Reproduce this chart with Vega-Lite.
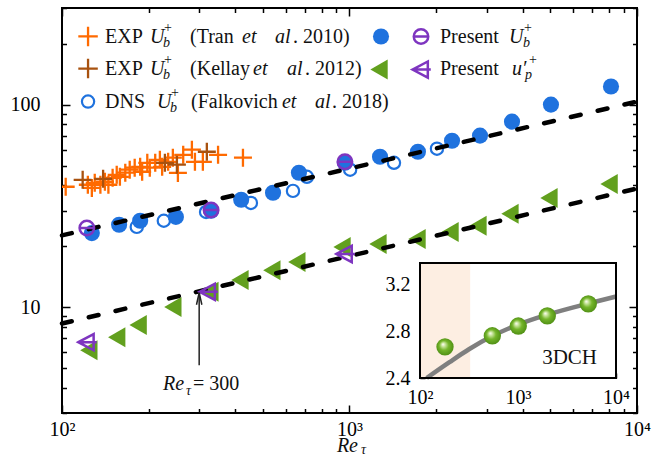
{
"$schema":"https://vega.github.io/schema/vega-lite/v6.json",
"width":575,"height":405,
"autosize":{"type":"none"},
"padding":{"left":62,"top":8,"right":15,"bottom":45},
"background":"white",
"config":{"view":{"stroke":"black","strokeWidth":2},
 "axis":{"domain":false,"grid":false,"tickColor":"black","tickWidth":1.5,"labelColor":"black","labelFont":"Liberation Serif, Times New Roman, DejaVu Serif, serif","labelFontSize":20,"labelFlush":false,"labelOverlap":false},
 "text":{"font":"Liberation Serif, Times New Roman, DejaVu Serif, serif","color":"black"}},
"datasets":{
 "tran":[{"re":103,"u":39.3},{"re":123,"u":40.2},{"re":127,"u":38.8},{"re":130,"u":41.1},{"re":136,"u":40.2},{"re":141,"u":41.6},{"re":145,"u":40.2},{"re":150,"u":43.5},{"re":155,"u":45.0},{"re":159,"u":44.0},{"re":166,"u":46.1},{"re":172,"u":47.7},{"re":179,"u":48.8},{"re":187,"u":49.3},{"re":190,"u":46.6},{"re":198,"u":51.6},{"re":202,"u":48.8},{"re":211,"u":51.6},{"re":219,"u":53.4},{"re":223,"u":49.3},{"re":234,"u":52.2},{"re":243,"u":54.7},{"re":253,"u":46.0},{"re":264,"u":56.5},{"re":283,"u":59.9},{"re":290,"u":52.2},{"re":309,"u":52.2},{"re":349,"u":56.5},{"re":426,"u":54.7}],
 "kellay":[{"re":118,"u":42.5},{"re":139,"u":43.0},{"re":228,"u":51.6},{"re":251,"u":50.5},{"re":319,"u":58.5}],
 "dns":[{"re":182,"u":24.9},{"re":226,"u":26.7},{"re":317,"u":29.5},{"re":454,"u":32.7},{"re":636,"u":37.5},{"re":711,"u":44.0},{"re":1005,"u":47.7},{"re":1428,"u":51.6},{"re":2015,"u":60.6}],
 "presentU":[{"re":127,"u":23.2},{"re":158,"u":25.5},{"re":187,"u":26.7},{"re":249,"u":27.9},{"re":330,"u":29.9},{"re":420,"u":33.9},{"re":542,"u":36.7},{"re":667,"u":46.1},{"re":964,"u":51.6},{"re":1277,"u":55.3},{"re":1730,"u":58.5},{"re":2273,"u":66.3},{"re":2844,"u":70.3},{"re":3675,"u":82.4},{"re":5020,"u":100},{"re":8120,"u":122.8}],
 "presentUsel":[{"re":122,"u":24.6},{"re":330,"u":30.2},{"re":964,"u":52.2}],
 "presentUp":[{"re":124,"u":6.12},{"re":155,"u":7.10},{"re":184,"u":8.15},{"re":243,"u":10.0},{"re":327,"u":11.9},{"re":416,"u":13.6},{"re":537,"u":15.2},{"re":656,"u":16.7},{"re":942,"u":19.8},{"re":1256,"u":20.5},{"re":1717,"u":21.7},{"re":2237,"u":23.5},{"re":2798,"u":25.2},{"re":3616,"u":28.9},{"re":4941,"u":34.6},{"re":7995,"u":40.6}],
 "presentUpsel":[{"re":122,"u":6.71},{"re":322,"u":11.9},{"re":964,"u":18.3}],
 "fits":[{"s":"upper","re":100,"u":22.6},{"s":"upper","re":10000,"u":103.5},{"s":"lower","re":100,"u":8.3},{"s":"lower","re":10000,"u":38.5}],
 "arrow":[{"re":300,"u":5.16,"u2":11.6}],
 "arrowhead":[{"re":300,"u":11.0}],
 "txtNormal":[{"re":141.1,"u":201.4,"t":"EXP"},{"re":278.8,"u":201.4,"t":"(Tran"},{"re":636.1,"u":201.4,"t":". 2010)"},{"re":141.1,"u":139.9,"t":"EXP"},{"re":278.8,"u":139.9,"t":"(Kellay"},{"re":700.1,"u":139.9,"t":". 2012)"},{"re":141.1,"u":96.1,"t":"DNS"},{"re":281.0,"u":96.1,"t":"(Falkovich"},{"re":869.3,"u":96.1,"t":". 2018)"},{"re":2064,"u":201.4,"t":"Present"},{"re":2064,"u":139.9,"t":"Present"},{"re":285.6,"u":3.88,"t":"= 300"}],
 "txtItalic":[{"re":202.4,"u":201.4,"t":"U"},{"re":422.8,"u":201.4,"t":"et"},{"re":550.6,"u":201.4,"t":"al"},{"re":202.4,"u":139.9,"t":"U"},{"re":461.8,"u":139.9,"t":"et"},{"re":606.2,"u":139.9,"t":"al"},{"re":214.0,"u":96.1,"t":"U"},{"re":582.3,"u":96.1,"t":"et"},{"re":758.6,"u":96.1,"t":"al"},{"re":3588,"u":201.4,"t":"U"},{"re":3675,"u":139.9,"t":"u′"},{"re":224.6,"u":3.88,"t":"Re"},{"re":903.9,"u":1.915,"t":"Re"}],
 "txtSubItalic":[{"re":224.6,"u":192.7,"t":"b"},{"re":224.6,"u":133.7,"t":"b"},{"re":237.5,"u":91.8,"t":"b"},{"re":4013,"u":192.7,"t":"b"},{"re":4077,"u":133.7,"t":"p"},{"re":270.1,"u":3.67,"t":"τ"},{"re":1096,"u":1.872,"t":"τ"}],
 "txtSup":[{"re":226.4,"u":228.6,"t":"+"},{"re":226.4,"u":158.7,"t":"+"},{"re":239.4,"u":108.9,"t":"+"},{"re":4046,"u":228.6,"t":"+"},{"re":4211,"u":158.7,"t":"+"}],
 "legTran":[{"re":123.2,"u":217.1}],
 "legKellay":[{"re":123.2,"u":150.7}],
 "legDns":[{"re":123.2,"u":103.5}],
 "legU":[{"re":1287,"u":217.1}],
 "legUsel":[{"re":1773,"u":217.1}],
 "legUp":[{"re":1267,"u":149.0}],
 "legUpsel":[{"re":1773,"u":149.0}],
 "insetBox":[{"re":100,"re2":10000,"v":2.4,"v2":3.38}],
 "insetShade":[{"re":100,"re2":325,"v":2.4,"v2":3.38}],
 "insetCurve":[{"re":117,"v":2.4},{"re":200,"v":2.535},{"re":316,"v":2.645},{"re":547,"v":2.757},{"re":1000,"v":2.855},{"re":1995,"v":2.94},{"re":5212,"v":3.035},{"re":10000,"v":3.094}],
 "insetBalls":[{"re":180,"v":2.666},{"re":547,"v":2.76},{"re":1007,"v":2.843},{"re":1990,"v":2.929},{"re":5214,"v":3.031}],
 "insetLabel":[{"re":6397,"v":2.517,"t":"3DCH"}]
},
"layer":[
 {
  "encoding":{
   "x":{"field":"re","type":"quantitative","scale":{"type":"log","domain":[100,10000],"nice":false},"axis":null},
   "y":{"field":"u","type":"quantitative","scale":{"type":"log","domain":[3,300],"nice":false},"axis":null}
  },
  "layer":[
   {"data":{"name":"tran"},
    "mark":{"type":"point","shape":"M -1 0 L 1 0 M 0 -1 L 0 1","filled":false,"size":324,"strokeWidth":2.3,"color":"#ff6a00","opacity":1,"clip":true},
    "encoding":{
     "x":{"field":"re","type":"quantitative","scale":{"type":"log","domain":[100,10000],"nice":false},"axis":{"orient":"bottom","values":[100,1000,10000],"tickSize":-8,"labelPadding":14,"labelExpr":"datum.value == 100 ? '10²' : (datum.value == 1000 ? '10³' : '10⁴')","title":null}},
     "y":{"field":"u","type":"quantitative","scale":{"type":"log","domain":[3,300],"nice":false},"axis":{"orient":"left","values":[10,100],"tickSize":-8,"labelPadding":30,"format":"d","title":null}}}},
   {"data":{"name":"kellay"},
    "mark":{"type":"point","shape":"M -1 0 L 1 0 M 0 -1 L 0 1","filled":false,"size":324,"strokeWidth":2.3,"color":"#a8520f","opacity":1},
    "encoding":{
     "x":{"field":"re","type":"quantitative","scale":{"type":"log","domain":[100,10000],"nice":false},"axis":{"orient":"bottom","values":[200,300,400,500,600,700,800,900,2000,3000,4000,5000,6000,7000,8000,9000],"tickSize":-4.5,"labels":false,"title":null}},
     "y":{"field":"u","type":"quantitative","scale":{"type":"log","domain":[3,300],"nice":false},"axis":{"orient":"left","values":[3,4,5,6,7,8,9,20,30,40,50,60,70,80,90,200,300],"tickSize":-4.5,"labels":false,"title":null}}}},
   {"data":{"name":"dns"},
    "mark":{"type":"point","shape":"circle","filled":false,"size":150,"strokeWidth":2.2,"color":"#1f72de","opacity":1},
    "encoding":{
     "x":{"field":"re","type":"quantitative","scale":{"type":"log","domain":[100,10000],"nice":false},"axis":{"orient":"top","values":[100,1000,10000],"tickSize":-8,"labels":false,"title":null}},
     "y":{"field":"u","type":"quantitative","scale":{"type":"log","domain":[3,300],"nice":false},"axis":{"orient":"right","values":[10,100],"tickSize":-8,"labels":false,"title":null}}}},
   {"data":{"name":"presentU"},
    "mark":{"type":"point","shape":"circle","filled":true,"size":260,"color":"#1f72de","opacity":1},
    "encoding":{
     "x":{"field":"re","type":"quantitative","scale":{"type":"log","domain":[100,10000],"nice":false},"axis":{"orient":"top","values":[200,300,400,500,600,700,800,900,2000,3000,4000,5000,6000,7000,8000,9000],"tickSize":-4.5,"labels":false,"title":null}},
     "y":{"field":"u","type":"quantitative","scale":{"type":"log","domain":[3,300],"nice":false},"axis":{"orient":"right","values":[3,4,5,6,7,8,9,20,30,40,50,60,70,80,90,200,300],"tickSize":-4.5,"labels":false,"title":null}}}},
   {"data":{"name":"presentUp"},
    "mark":{"type":"point","shape":"triangle-left","filled":true,"size":400,"color":"#62a01e","opacity":1}},
   {"data":{"name":"fits"},
    "mark":{"type":"line","color":"black","strokeWidth":4.5,"strokeDash":[10,17.5],"strokeCap":"round"},
    "encoding":{"detail":{"field":"s"}}},
   {"data":{"name":"presentUsel"},
    "mark":{"type":"point","shape":"M -1 0 A 1 1 0 1 1 1 0 A 1 1 0 1 1 -1 0 Z M -1 0 L 1 0","filled":false,"size":210,"strokeWidth":2.5,"color":"#7e35c0","opacity":1}},
   {"data":{"name":"presentUpsel"},
    "mark":{"type":"point","shape":"M -1 0 L 0.8 -0.95 L 0.8 0.95 Z M -1 0 L 1.15 0","filled":false,"size":290,"strokeWidth":2.5,"color":"#7e35c0","opacity":1}},
   {"data":{"name":"arrow"},
    "mark":{"type":"rule","color":"#222222","strokeWidth":1.5},
    "encoding":{"y2":{"field":"u2"}}},
   {"data":{"name":"arrowhead"},
    "mark":{"type":"point","shape":"M -0.45 1 L 0 -1 L 0.45 1","filled":false,"size":144,"strokeWidth":1.5,"color":"#222222","opacity":1}},
   {"data":{"name":"legTran"},
    "mark":{"type":"point","shape":"M -1 0 L 1 0 M 0 -1 L 0 1","filled":false,"size":380,"strokeWidth":2.3,"color":"#ff6a00","opacity":1}},
   {"data":{"name":"legKellay"},
    "mark":{"type":"point","shape":"M -1 0 L 1 0 M 0 -1 L 0 1","filled":false,"size":380,"strokeWidth":2.3,"color":"#a8520f","opacity":1}},
   {"data":{"name":"legDns"},
    "mark":{"type":"point","shape":"circle","filled":false,"size":150,"strokeWidth":2.2,"color":"#1f72de","opacity":1}},
   {"data":{"name":"legU"},
    "mark":{"type":"point","shape":"circle","filled":true,"size":260,"color":"#1f72de","opacity":1}},
   {"data":{"name":"legUsel"},
    "mark":{"type":"point","shape":"M -1 0 A 1 1 0 1 1 1 0 A 1 1 0 1 1 -1 0 Z M -1 0 L 1 0","filled":false,"size":210,"strokeWidth":2.5,"color":"#7e35c0","opacity":1}},
   {"data":{"name":"legUp"},
    "mark":{"type":"point","shape":"triangle-left","filled":true,"size":400,"color":"#62a01e","opacity":1}},
   {"data":{"name":"legUpsel"},
    "mark":{"type":"point","shape":"M -1 0 L 0.8 -0.95 L 0.8 0.95 Z M -1 0 L 1.15 0","filled":false,"size":290,"strokeWidth":2.5,"color":"#7e35c0","opacity":1}},
   {"data":{"name":"txtNormal"},
    "mark":{"type":"text","align":"left","baseline":"alphabetic","font":"Liberation Serif, Times New Roman, DejaVu Serif, serif","fontSize":20,"color":"#111111"},
    "encoding":{"text":{"field":"t"}}},
   {"data":{"name":"txtItalic"},
    "mark":{"type":"text","align":"left","baseline":"alphabetic","font":"Liberation Serif, Times New Roman, DejaVu Serif, serif","fontStyle":"italic","fontSize":20,"color":"#111111"},
    "encoding":{"text":{"field":"t"}}},
   {"data":{"name":"txtSubItalic"},
    "mark":{"type":"text","align":"left","baseline":"alphabetic","font":"Liberation Serif, Times New Roman, DejaVu Serif, serif","fontStyle":"italic","fontSize":14,"color":"#111111"},
    "encoding":{"text":{"field":"t"}}},
   {"data":{"name":"txtSup"},
    "mark":{"type":"text","align":"left","baseline":"alphabetic","font":"Liberation Serif, Times New Roman, DejaVu Serif, serif","fontSize":14,"color":"#111111"},
    "encoding":{"text":{"field":"t"}}}
  ],
  "resolve":{"axis":{"x":"independent","y":"independent"}}
 },
 {
  "encoding":{
   "x":{"field":"re","type":"quantitative","scale":{"type":"log","domain":[100,10000],"nice":false,"range":[358,554]},"axis":null},
   "y":{"field":"v","type":"quantitative","scale":{"type":"linear","domain":[2.4,3.38],"nice":false,"zero":false,"range":[370,255]},"axis":null}
  },
  "layer":[
   {"data":{"name":"insetBox"},
    "mark":{"type":"rect","fill":"white","stroke":null},
    "encoding":{
     "x":{"field":"re","type":"quantitative","scale":{"type":"log","domain":[100,10000],"nice":false,"range":[358,554]},"axis":{"orient":"bottom","offset":-35,"values":[100,1000,10000],"tickSize":-5,"labelPadding":14,"labelExpr":"datum.value == 100 ? '10²' : (datum.value == 1000 ? '10³' : '10⁴')","title":null}},
     "x2":{"field":"re2"},
     "y":{"field":"v","type":"quantitative","scale":{"type":"linear","domain":[2.4,3.38],"nice":false,"zero":false,"range":[370,255]},"axis":{"orient":"left","offset":-358,"values":[2.4,2.8,3.2],"format":".1f","tickSize":-5,"labelPadding":15,"title":null}},
     "y2":{"field":"v2"}}},
   {"data":{"name":"insetShade"},
    "mark":{"type":"rect","fill":"#fdeee2","stroke":null},
    "encoding":{
     "x":{"field":"re","type":"quantitative","scale":{"type":"log","domain":[100,10000],"nice":false,"range":[358,554]},"axis":{"orient":"top","offset":-255,"values":[1000],"tickSize":-5,"labels":false,"title":null}},
     "x2":{"field":"re2"},
     "y":{"field":"v","type":"quantitative","scale":{"type":"linear","domain":[2.4,3.38],"nice":false,"zero":false,"range":[370,255]},"axis":{"orient":"right","offset":-21,"values":[2.8,3.2],"tickSize":-5,"labels":false,"title":null}},
     "y2":{"field":"v2"}}},
   {"data":{"name":"insetCurve"},
    "mark":{"type":"line","color":"#7f7f7f","strokeWidth":4.5,"interpolate":"monotone"},
    "encoding":{}},
   {"data":{"name":"insetBalls"},
    "mark":{"type":"point","shape":"circle","filled":true,"size":300,"opacity":1,"stroke":null,
     "fill":{"gradient":"radial","x1":0.38,"y1":0.35,"r1":0,"x2":0.5,"y2":0.5,"r2":0.55,"stops":[{"offset":0,"color":"#ffffff"},{"offset":0.18,"color":"#cfe8a6"},{"offset":0.5,"color":"#74b52a"},{"offset":1,"color":"#4b8a12"}]}}},
   {"data":{"name":"insetBox"},
    "mark":{"type":"rect","fill":null,"fillOpacity":0,"stroke":"black","strokeWidth":2},
    "encoding":{"x2":{"field":"re2"},"y2":{"field":"v2"}}},
   {"data":{"name":"insetLabel"},
    "mark":{"type":"text","align":"right","baseline":"alphabetic","font":"Liberation Serif, Times New Roman, DejaVu Serif, serif","fontSize":21,"color":"#111111"},
    "encoding":{"text":{"field":"t"}}}
  ],
  "resolve":{"axis":{"x":"independent","y":"independent"}}
 }
],
"resolve":{"scale":{"x":"independent","y":"independent"}}
}
